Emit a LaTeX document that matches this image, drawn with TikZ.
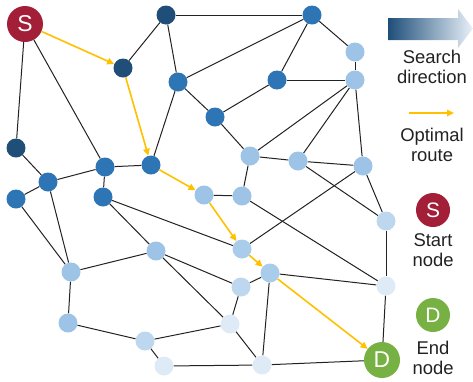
\documentclass[tikz,border=0pt]{standalone}
\usepackage{fontspec}
\setmainfont{Liberation Sans}
\usetikzlibrary{arrows.meta,backgrounds}
\definecolor{cnavy}{HTML}{1F4E79}
\definecolor{cmed}{HTML}{2E75B6}
\definecolor{clight}{HTML}{9DC3E6}
\definecolor{clightb}{HTML}{A9CCEB}
\definecolor{clighter}{HTML}{BDD7EE}
\definecolor{cpale}{HTML}{DEEBF7}
\definecolor{cstart}{HTML}{A31F38}
\definecolor{cend}{HTML}{77B043}
\definecolor{cyel}{HTML}{FFC000}
\definecolor{ctext}{HTML}{222222}
\tikzset{
  dot/.style={circle,minimum size=19bp,inner sep=0pt,draw=none,fill=#1},
  bignode/.style={circle,minimum size=36bp,inner sep=0pt,fill=#1,text=white,font=\fontsize{23}{23}\selectfont},
  legnode/.style={circle,minimum size=34bp,inner sep=0pt,fill=#1,text=white,font=\fontsize{21}{21}\selectfont},
  edge/.style={draw=ctext,line width=1bp},
  route/.style={draw=cyel,line width=1.6bp,-{Triangle[length=7bp,width=6.5bp]}},
  legtext/.style={align=center,text=ctext,font=\fontsize{18.5}{20.5}\selectfont,inner sep=0pt}
}
\begin{document}
\begin{tikzpicture}[x=1bp,y=-1bp]
\useasboundingbox (0,0) rectangle (473,381);
% nodes
\node[bignode=cstart] (S) at (25,24) {S};
\node[bignode=cend] (D) at (382,360) {D};
\node[dot=cnavy] (n1) at (166,15) {};
\node[dot=cnavy] (n2) at (123,68) {};
\node[dot=cmed] (n3) at (178,82) {};
\node[dot=cnavy] (n4) at (16,148) {};
\node[dot=cmed] (n5) at (48,182) {};
\node[dot=cmed] (n6) at (105,167) {};
\node[dot=cmed] (n7) at (151,165) {};
\node[dot=cmed] (n8) at (312,15) {};
\node[dot=clight] (n9) at (355,52) {};
\node[dot=cmed] (n10) at (277,80) {};
\node[dot=clight] (n11) at (355,80) {};
\node[dot=cmed] (n12) at (215,117) {};
\node[dot=clight] (n13) at (250,156) {};
\node[dot=clight] (n14) at (298,161) {};
\node[dot=clight] (n15) at (363,166) {};
\node[dot=cmed] (n16) at (16,199) {};
\node[dot=cmed] (n17) at (103,197) {};
\node[dot=clight] (n18) at (204,195) {};
\node[dot=clight] (n19) at (242,196) {};
\node[dot=clight] (n20) at (156,251) {};
\node[dot=clight] (n21) at (71,272) {};
\node[dot=clightb] (n22) at (242,249) {};
\node[dot=clightb] (n23) at (270,273) {};
\node[dot=clighter] (n24) at (386,221) {};
\node[dot=clighter] (n25) at (241,287) {};
\node[dot=cpale] (n26) at (386,286) {};
\node[dot=clight] (n27) at (68,323) {};
\node[dot=clighter] (n28) at (145,341) {};
\node[dot=cpale] (n29) at (230,324) {};
\node[dot=cpale] (n30) at (164,366) {};
\node[dot=cpale] (n31) at (262,365) {};
% edges
\begin{scope}[on background layer]
\foreach \a/\b in {S/n4,S/n6,n1/n2,n1/n8,n1/n3,n3/n8,n3/n7,n3/n12,n4/n5,n5/n6,n6/n7,n6/n17,
  n5/n16,n5/n21,n16/n21,n17/n20,n17/n22,n20/n21,n20/n25,n20/n29,n21/n27,n27/n28,n28/n30,
  n28/n29,n30/n31,n31/D,n29/n31,n29/n25,n25/n23,n23/n31,n23/n26,n18/n19,n19/n13,n19/n26,
  n22/n15,n14/n24,n15/n24,n24/n26,n26/D,n11/n15,n11/n9,n8/n9,n8/n10,n10/n11,n10/n12,
  n12/n13,n11/n13,n11/n14,n13/n14,n14/n15}
  \draw[edge] (\a) -- (\b);
\end{scope}
% optimal route
\draw[route] (S) -- (n2);
\draw[route] (n2) -- (n7);
\draw[route] (n7) -- (n18);
\draw[route] (n18) -- (n22);
\draw[route] (n22) -- (n23);
\draw[route] (n23) -- (D);
% legend
\shade[left color=cnavy,right color=cpale!70!white]
  (388,18) -- (458,18) -- (458,9) -- (473,28.5) -- (458,48) -- (458,40) -- (388,40) -- cycle;
\node[legtext] (t1) at (432,67) {Search\\direction};
\coordinate (ya) at (409,113);
\coordinate (yb) at (454,113);
\draw[route] (ya) -- (yb);
\node[legtext] (t2) at (432,145) {Optimal\\route};
\node[legnode=cstart] (LS) at (433,210) {S};
\node[legtext] (t3) at (433,250) {Start\\node};
\node[legnode=cend] (LD) at (433,315) {D};
\node[legtext] (t4) at (433,358) {End\\node};
\end{tikzpicture}
\end{document}
